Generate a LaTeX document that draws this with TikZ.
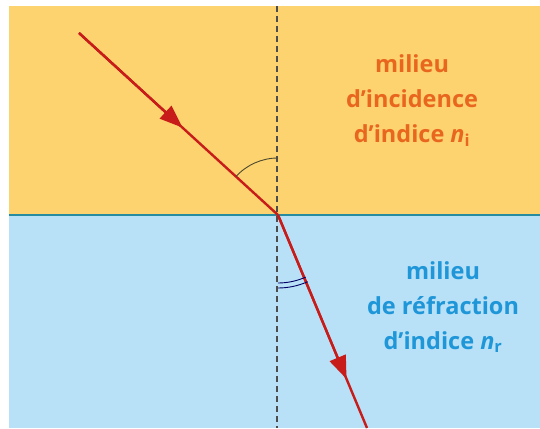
\documentclass[tikz,border=0pt]{standalone}
\usepackage{fontspec}
\usepackage{tikz}
\usetikzlibrary{arrows.meta,calc}
\newfontfamily\mediumfont{Open Sans}
\definecolor{incbg}{RGB}{253,211,111}
\definecolor{refbg}{RGB}{184,224,247}
\definecolor{inctext}{RGB}{233,102,31}
\definecolor{reftext}{RGB}{30,150,216}
\definecolor{surface}{RGB}{40,140,160}
\definecolor{rayred}{RGB}{226,32,28}

\begin{document}
\begin{tikzpicture}[
  x=1pt,y=1pt,
  ray/.style={draw=rayred!88!black,line width=2.4pt},
  rayhead/.style={-{Triangle[length=23pt,width=17pt]},draw=rayred!88!black,
    fill=rayred,line width=2.4pt},
  normal/.style={draw=black!70,line width=1.1pt,dash pattern=on 6pt off 4pt},
  anglearc/.style={draw=black!60!olive,line width=0.9pt},
  label/.style={align=center,font=\mediumfont\bfseries\fontsize{23.5}{35}\selectfont}
]
  \useasboundingbox (0,0) rectangle (540,428);
  \fill[incbg] (9,213) rectangle (540,422);
  \fill[refbg] (9,0) rectangle (540,213);
  \coordinate (I) at (278,213);
  \coordinate (src) at (79,395);
  \coordinate (dst) at (367,0);
  \coordinate (ntop) at (277,422);
  \coordinate (nbot) at (277,0);
  \draw[normal] (ntop) -- (nbot);
  \draw[surface,line width=1.8pt] (9,213) -- (540,213);
  % rays
  \draw[ray] (src) -- (I);
  \draw[rayhead] (src) -- ($(src)!0.52!(I)$);
  \draw[ray] (I) -- (dst);
  \draw[rayhead] (I) -- ($(I)!0.77!(dst)$);
  % angles
  \draw[anglearc] ([shift={(90:57)}]I) arc[start angle=90,end angle=137.6,radius=57];
  \draw[anglearc,draw=blue!40!black] ([shift={(270:68)}]I) arc[start angle=270,end angle=294,radius=68];
  \draw[anglearc,draw=blue!40!black] ([shift={(270:73)}]I) arc[start angle=270,end angle=294,radius=73];
  \node[label,text=inctext] (incmedium) at (412,327)
    {milieu\\d’incidence\\d’indice \textit{n}\textsubscript{i}};
  \node[label,text=reftext] (refmedium) at (443,121)
    {milieu\\de réfraction\\d’indice \textit{n}\textsubscript{r}};
\end{tikzpicture}
\end{document}
